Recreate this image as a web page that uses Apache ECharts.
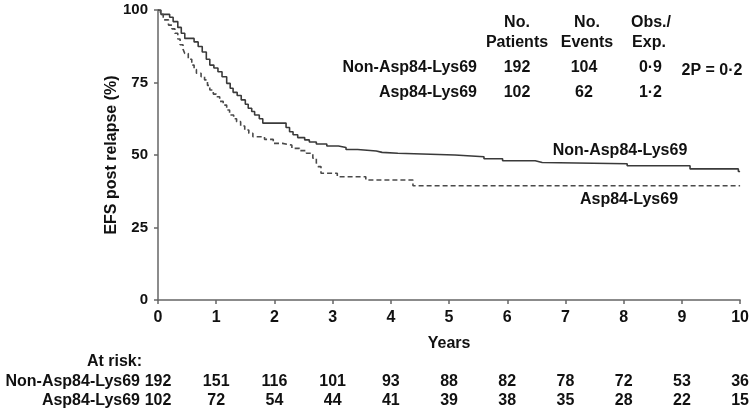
<!DOCTYPE html>
<html>
<head>
<meta charset="utf-8">
<script src="https://cdn.jsdelivr.net/npm/echarts@6/dist/echarts.min.js"></script>
<style>html,body{margin:0;padding:0;background:#fff}#c{width:752px;height:412px}</style>
</head>
<body>
<div id="c"></div>
<script>
const groups = ['Non-Asp84-Lys69', 'Asp84-Lys69'];
const xTicks = [0, 1, 2, 3, 4, 5, 6, 7, 8, 9, 10];
const yTicks = [0, 25, 50, 75, 100];
const nonAspCurve = [[0,100],[0.05,98.5],[0.2,97.5],[0.26,96],[0.34,94],[0.4,92],[0.46,90.2],[0.62,89],[0.69,87.4],[0.76,85.5],[0.83,83],[0.89,81],[0.96,80],[1.03,78.7],[1.1,77],[1.18,74.7],[1.24,73],[1.29,71.6],[1.36,70.5],[1.43,69],[1.5,67.5],[1.55,66.1],[1.61,65],[1.66,63.8],[1.74,62.5],[1.8,61],[2.2,59.5],[2.26,58],[2.32,57],[2.4,56],[2.52,55.2],[2.6,54.5],[2.72,53.8],[2.9,53.1],[3.1,52.6],[3.23,51.9],[3.43,51.4],[3.75,50.9],[3.85,50.6],[4.12,50],[5.1,49.4],[5.6,48.7],[5.92,48.0],[6.48,47.4],[6.6,47.0],[8.06,46.3],[9.14,45.2],[9.97,44.3],[10,44.3]];
const aspCurve = [[0,100],[0.04,98.5],[0.09,96.6],[0.18,94.8],[0.24,93.5],[0.29,92],[0.34,90],[0.38,88],[0.43,86.5],[0.46,85],[0.52,83],[0.58,81],[0.62,79.5],[0.66,78.2],[0.74,77],[0.8,75.9],[0.85,74],[0.89,72.4],[0.95,71],[1.0,70.1],[1.06,68.5],[1.12,67.2],[1.18,65.5],[1.23,63.8],[1.3,62.5],[1.35,61.5],[1.42,60],[1.49,58.6],[1.56,57.5],[1.63,56.3],[1.83,55.4],[1.98,54],[2.14,53.4],[2.3,52.3],[2.43,51.5],[2.55,50.6],[2.66,48.9],[2.72,47.3],[2.75,46],[2.8,43.7],[3.08,42.5],[3.57,41.4],[4.38,39.4],[10,39.4]];
const atRiskNonAsp = [192, 151, 116, 101, 93, 88, 82, 78, 72, 53, 36];
const atRiskAsp = [102, 72, 54, 44, 41, 39, 38, 35, 28, 22, 15];
const nPatients = [192, 102];
const nEvents = [104, 62];
const obsExp = ['0·9', '1·2'];
const pText = '2P = 0·2';
const yName = 'EFS post relapse (%)';
const xName = 'Years';

const FONT = '"Liberation Sans", Arial, Helvetica, sans-serif';
const TXT = '#111';
const chart = echarts.init(document.getElementById('c'));
function T(x, y, text, align, size) {
  return { type: 'text', x: x, y: y, style: { text: text, fill: TXT, font: 'bold ' + (size || 16) + 'px ' + FONT, align: align || 'center', verticalAlign: 'middle' } };
}
chart.setOption({
  animation: false,
  grid: { left: 158, right: 10, top: 10, bottom: 112 },
  xAxis: {
    type: 'value', min: 0, max: 10, interval: 1,
    name: xName, nameLocation: 'middle', nameGap: 36, nameMoveOverlap: false,
    nameTextStyle: { color: TXT, fontFamily: FONT, fontWeight: 'bold', fontSize: 16 },
    axisLine: { lineStyle: { color: '#666', width: 1.5 } },
    axisTick: { show: true, length: 4, lineStyle: { color: '#666', width: 1.5 } },
    axisLabel: { color: TXT, fontFamily: FONT, fontWeight: 'bold', fontSize: 16, margin: 10, formatter: v => xTicks.includes(v) ? String(v) : '' },
    splitLine: { show: false }
  },
  yAxis: {
    type: 'value', min: 0, max: 100, interval: 25,
    name: yName, nameLocation: 'middle', nameGap: 38, nameMoveOverlap: false,
    nameTextStyle: { color: TXT, fontFamily: FONT, fontWeight: 'bold', fontSize: 16 },
    axisLine: { show: true, lineStyle: { color: '#666', width: 1.5 } },
    axisTick: { show: true, length: 4, lineStyle: { color: '#666', width: 1.5 } },
    axisLabel: { color: TXT, fontFamily: FONT, fontWeight: 'bold', fontSize: 15, margin: 10, formatter: v => yTicks.includes(v) ? String(v) : '' },
    splitLine: { show: false }
  },
  series: [
    { name: groups[0], type: 'line', step: 'end', data: nonAspCurve, showSymbol: false, symbol: 'none',
      lineStyle: { color: '#3a3a3a', width: 1.6, type: 'solid' } },
    { name: groups[1], type: 'line', step: 'end', data: aspCurve, showSymbol: false, symbol: 'none',
      lineStyle: { color: '#4a4a4a', width: 1.6, type: [5, 3] } }
  ]
});

const px = t => chart.convertToPixel({ xAxisIndex: 0 }, t);
const g = [];
// table
g.push(T(517, 23, 'No.'), T(517, 43, 'Patients'));
g.push(T(587, 23, 'No.'), T(587, 43, 'Events'));
g.push(T(651, 23, 'Obs./'), T(649, 43, 'Exp.'));
const rowY = [68, 93];
for (let i = 0; i < 2; i++) {
  g.push(T(477, rowY[i], groups[i], 'right'));
  g.push(T(517, rowY[i], String(nPatients[i])));
  g.push(T(584, rowY[i], String(nEvents[i])));
  g.push(T(662, rowY[i], obsExp[i], 'right'));
}
g.push(T(712, 71, pText));
// curve labels
g.push(T(620, 151, groups[0]));
g.push(T(629, 200, groups[1]));
// at risk
g.push(T(142, 362, 'At risk:', 'right'));
const rY = [382, 401];
const rows = [atRiskNonAsp, atRiskAsp];
for (let i = 0; i < 2; i++) {
  g.push(T(140, rY[i], groups[i], 'right'));
  rows[i].forEach((v, j) => g.push(T(px(xTicks[j]), rY[i], String(v))));
}
chart.setOption({ graphic: g });
</script>
</body>
</html>
